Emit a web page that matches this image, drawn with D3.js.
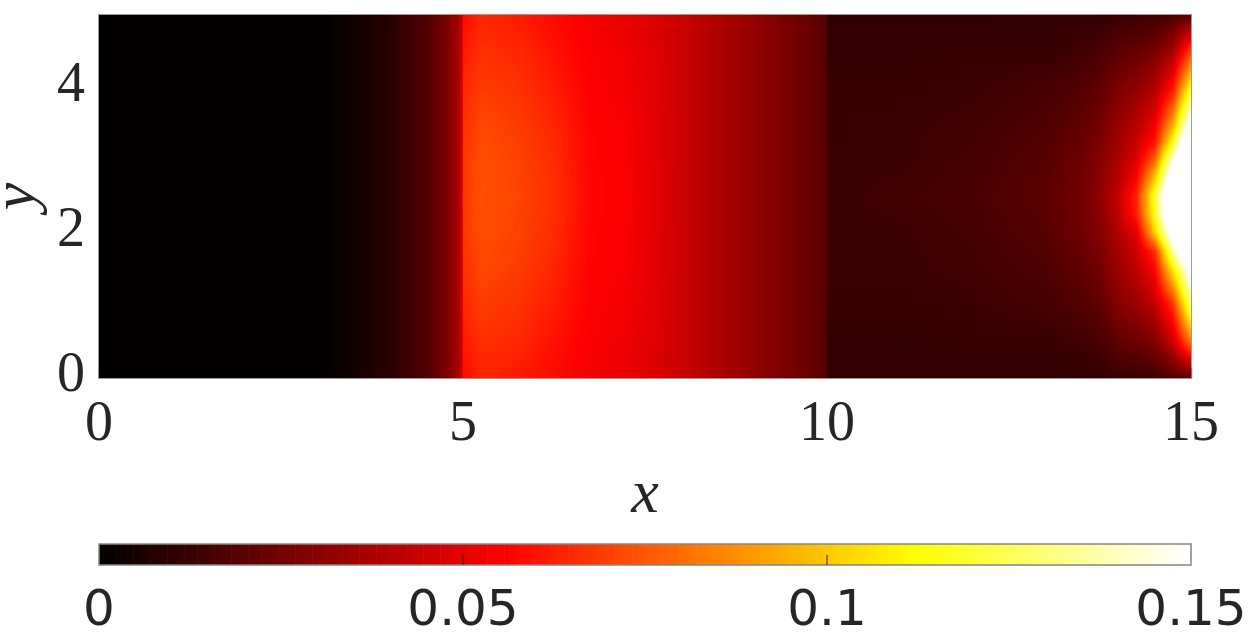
<!DOCTYPE html>
<html>
<head>
<meta charset="utf-8">
<script src="https://cdn.jsdelivr.net/npm/d3@7"></script>
<style>
  html, body { margin: 0; padding: 0; background: #fff; }
  svg { display: block; }
</style>
</head>
<body>
<svg id="chart" width="1248" height="637"></svg>
<script>
// ---------------- data ----------------
const xNodes = [0, 3.0, 3.5, 4.0, 4.5, 4.75, 4.9, 4.99, 5.0, 5.25, 5.75, 6.25, 6.75, 7.25, 7.75,
                8.25, 8.75, 9.25, 9.75, 9.99, 10.0, 11, 12, 13, 13.5, 13.75, 14, 14.25, 14.5, 14.75, 15];
const yNodes = [0, 0.25, 0.5, 1, 1.5, 1.75, 2, 2.25, 2.5, 2.75, 3, 3.25, 3.5, 4, 4.5, 4.75, 5];
// one row per y node (same order as yNodes), one value per x node
const fieldRows = [
  [0, 0, 0.0036, 0.0088, 0.0175, 0.026, 0.034, 0.045, 0.058, 0.064, 0.062, 0.058, 0.054, 0.051, 0.047, 0.041, 0.035, 0.029, 0.023, 0.019, 0.011, 0.011, 0.011, 0.011, 0.011, 0.011, 0.012, 0.013, 0.014, 0.017, 0.020],
  [0, 0, 0.0036, 0.0088, 0.0175, 0.026, 0.034, 0.045, 0.0595, 0.065, 0.063, 0.0588, 0.0544, 0.0516, 0.0473, 0.041, 0.035, 0.029, 0.023, 0.019, 0.011, 0.011, 0.011, 0.011, 0.012, 0.013, 0.017, 0.018, 0.021, 0.030, 0.050],
  [0, 0, 0.0036, 0.0088, 0.0175, 0.026, 0.034, 0.045, 0.061, 0.0665, 0.0645, 0.0598, 0.0548, 0.0523, 0.0476, 0.041, 0.035, 0.029, 0.023, 0.019, 0.011, 0.011, 0.012, 0.012, 0.014, 0.016, 0.021, 0.023, 0.028, 0.044, 0.082],
  [0, 0, 0.0036, 0.0088, 0.0175, 0.026, 0.034, 0.045, 0.064, 0.069, 0.067, 0.062, 0.0555, 0.0533, 0.048, 0.041, 0.035, 0.029, 0.023, 0.019, 0.012, 0.012, 0.013, 0.015, 0.018, 0.021, 0.029, 0.033, 0.042, 0.066, 0.128],
  [0, 0, 0.0036, 0.0088, 0.0175, 0.026, 0.034, 0.045, 0.066, 0.0715, 0.069, 0.064, 0.0562, 0.0542, 0.0482, 0.041, 0.035, 0.029, 0.023, 0.019, 0.013, 0.013, 0.014, 0.017, 0.021, 0.025, 0.034, 0.042, 0.056, 0.108, 0.160],
  [0, 0, 0.0036, 0.0088, 0.0175, 0.026, 0.034, 0.045, 0.067, 0.0723, 0.0698, 0.0648, 0.0565, 0.0545, 0.0483, 0.041, 0.035, 0.029, 0.023, 0.019, 0.013, 0.013, 0.0145, 0.018, 0.0225, 0.027, 0.036, 0.045, 0.066, 0.135, 0.195],
  [0, 0, 0.0036, 0.0088, 0.0175, 0.026, 0.034, 0.045, 0.0675, 0.073, 0.0705, 0.0655, 0.0567, 0.0547, 0.0484, 0.041, 0.035, 0.029, 0.023, 0.019, 0.013, 0.013, 0.015, 0.019, 0.024, 0.029, 0.039, 0.050, 0.100, 0.163, 0.225],
  [0, 0, 0.0036, 0.0088, 0.0175, 0.026, 0.034, 0.045, 0.0678, 0.0733, 0.0708, 0.0658, 0.0569, 0.0549, 0.0485, 0.041, 0.035, 0.029, 0.023, 0.019, 0.013, 0.0135, 0.0155, 0.0195, 0.0245, 0.030, 0.042, 0.062, 0.115, 0.185, 0.250],
  [0, 0, 0.0036, 0.0088, 0.0175, 0.026, 0.034, 0.045, 0.068, 0.0735, 0.071, 0.066, 0.057, 0.055, 0.0485, 0.041, 0.035, 0.029, 0.023, 0.019, 0.013, 0.014, 0.016, 0.020, 0.025, 0.031, 0.043, 0.064, 0.118, 0.190, 0.260],
  [0, 0, 0.0036, 0.0088, 0.0175, 0.026, 0.034, 0.045, 0.0678, 0.0733, 0.0708, 0.0658, 0.0569, 0.0549, 0.0485, 0.041, 0.035, 0.029, 0.023, 0.019, 0.013, 0.0135, 0.0155, 0.0195, 0.0245, 0.030, 0.040, 0.056, 0.100, 0.170, 0.240],
  [0, 0, 0.0036, 0.0088, 0.0175, 0.026, 0.034, 0.045, 0.0675, 0.073, 0.0705, 0.0655, 0.0567, 0.0547, 0.0484, 0.041, 0.035, 0.029, 0.023, 0.019, 0.013, 0.013, 0.015, 0.019, 0.024, 0.029, 0.038, 0.049, 0.078, 0.146, 0.210],
  [0, 0, 0.0036, 0.0088, 0.0175, 0.026, 0.034, 0.045, 0.067, 0.0723, 0.0698, 0.0648, 0.0565, 0.0545, 0.0483, 0.041, 0.035, 0.029, 0.023, 0.019, 0.0125, 0.013, 0.0145, 0.018, 0.0225, 0.027, 0.035, 0.044, 0.060, 0.115, 0.190],
  [0, 0, 0.0036, 0.0088, 0.0175, 0.026, 0.034, 0.045, 0.066, 0.0715, 0.069, 0.064, 0.0562, 0.0542, 0.0482, 0.041, 0.035, 0.029, 0.023, 0.019, 0.012, 0.013, 0.014, 0.017, 0.021, 0.025, 0.033, 0.040, 0.052, 0.092, 0.160],
  [0, 0, 0.0036, 0.0088, 0.0175, 0.026, 0.034, 0.045, 0.064, 0.069, 0.067, 0.062, 0.0555, 0.0533, 0.048, 0.041, 0.035, 0.029, 0.023, 0.019, 0.012, 0.012, 0.013, 0.015, 0.018, 0.021, 0.027, 0.031, 0.038, 0.060, 0.115],
  [0, 0, 0.0036, 0.0088, 0.0175, 0.026, 0.034, 0.045, 0.061, 0.0665, 0.0645, 0.0598, 0.0548, 0.0523, 0.0476, 0.041, 0.035, 0.029, 0.023, 0.019, 0.011, 0.011, 0.012, 0.012, 0.014, 0.016, 0.020, 0.022, 0.026, 0.036, 0.070],
  [0, 0, 0.0036, 0.0088, 0.0175, 0.026, 0.034, 0.045, 0.0595, 0.065, 0.063, 0.0588, 0.0544, 0.0516, 0.0473, 0.041, 0.035, 0.029, 0.023, 0.019, 0.011, 0.011, 0.011, 0.011, 0.012, 0.013, 0.016, 0.017, 0.019, 0.026, 0.045],
  [0, 0, 0.0036, 0.0088, 0.0175, 0.026, 0.034, 0.045, 0.058, 0.064, 0.062, 0.058, 0.054, 0.051, 0.047, 0.041, 0.035, 0.029, 0.023, 0.019, 0.010, 0.010, 0.010, 0.011, 0.011, 0.011, 0.012, 0.013, 0.014, 0.016, 0.020]
];
const xTicks = [0, 5, 10, 15];
const yTicks = [0, 2, 4];
const cbTicks = [0, 0.05, 0.1, 0.15];
const cbTickLabels = ["0", "0.05", "0.1", "0.15"];
const colorLimits = [0, 0.15];

// ---------------- layout ----------------
const svg = d3.select("#chart");
const plot = { left: 99, right: 1191, top: 15, bottom: 378 };
const cb = { top: 544, bottom: 565 };
const ink = "#262626";

const xScale = d3.scaleLinear().domain([0, 15]).range([plot.left, plot.right]);
const yScale = d3.scaleLinear().domain([0, 5]).range([plot.bottom, plot.top]);
const cbScale = d3.scaleLinear().domain(colorLimits).range([plot.left, plot.right]);

// MATLAB-like "hot" colormap with 256 levels
const M = 256, n1 = Math.floor(3 / 8 * M);
const hotColors = d3.range(M).map(i => {
  const k = i + 1;
  const r = Math.min(1, k / n1);
  const g = Math.max(0, Math.min(1, (k - n1) / n1));
  const b = Math.max(0, Math.min(1, (k - 2 * n1) / (M - 2 * n1)));
  return d3.rgb(r * 255, g * 255, b * 255);
});
const color = d3.scaleQuantize().domain(colorLimits).range(hotColors);

// ---------------- field image (interpolated shading between grid nodes) ----------------
function sample(xv, yv) {
  const i = Math.max(0, Math.min(xNodes.length - 2, d3.bisectRight(xNodes, xv) - 1));
  const j = Math.max(0, Math.min(yNodes.length - 2, d3.bisectRight(yNodes, yv) - 1));
  const tx = Math.max(0, Math.min(1, (xv - xNodes[i]) / (xNodes[i + 1] - xNodes[i])));
  const ty = Math.max(0, Math.min(1, (yv - yNodes[j]) / (yNodes[j + 1] - yNodes[j])));
  const a = fieldRows[j][i], b = fieldRows[j][i + 1];
  const c = fieldRows[j + 1][i], d = fieldRows[j + 1][i + 1];
  return (a * (1 - tx) + b * tx) * (1 - ty) + (c * (1 - tx) + d * tx) * ty;
}

const W = plot.right - plot.left, H = plot.bottom - plot.top;
const canvas = document.createElement("canvas");
canvas.width = W; canvas.height = H;
const ctx = canvas.getContext("2d");
const img = ctx.createImageData(W, H);
for (let py = 0; py < H; py++) {
  const yv = yScale.invert(plot.top + py + 0.5);
  for (let px = 0; px < W; px++) {
    const xv = xScale.invert(plot.left + px + 0.5);
    const c = color(sample(xv, yv));
    const o = (py * W + px) * 4;
    img.data[o] = c.r; img.data[o + 1] = c.g; img.data[o + 2] = c.b; img.data[o + 3] = 255;
  }
}
ctx.putImageData(img, 0, 0);

// axes frame + ticks under the image
svg.append("rect")
  .attr("x", plot.left - 0.5).attr("y", plot.top - 0.5)
  .attr("width", W + 1).attr("height", H + 1)
  .attr("fill", "none").attr("stroke", "#9a9a9a").attr("stroke-width", 1);
svg.append("g").selectAll("line").data(xTicks).join("line")
  .attr("x1", d => xScale(d) + 0.5).attr("x2", d => xScale(d) + 0.5)
  .attr("y1", plot.bottom).attr("y2", plot.bottom - 10)
  .attr("stroke", "#777").attr("stroke-width", 1.5);

svg.append("image")
  .attr("x", plot.left).attr("y", plot.top)
  .attr("width", W).attr("height", H)
  .attr("preserveAspectRatio", "none")
  .attr("href", canvas.toDataURL());

// tick labels
const serif = "'Liberation Serif', 'Times New Roman', serif";
svg.append("g").selectAll("text").data(xTicks).join("text")
  .attr("x", d => xScale(d)).attr("y", 440)
  .attr("text-anchor", "middle")
  .attr("font-family", serif).attr("font-size", 56).attr("fill", ink)
  .text(d => d);
svg.append("g").selectAll("text").data(yTicks).join("text")
  .attr("x", plot.left - 14).attr("y", d => yScale(d) + 13)
  .attr("text-anchor", "end")
  .attr("font-family", serif).attr("font-size", 56).attr("fill", ink)
  .text(d => d);

// axis labels
svg.append("text")
  .attr("x", (plot.left + plot.right) / 2).attr("y", 512)
  .attr("text-anchor", "middle")
  .attr("font-family", serif).attr("font-style", "italic").attr("font-size", 62).attr("fill", ink)
  .text("x");
svg.append("text")
  .attr("transform", `translate(34,${(plot.top + plot.bottom) / 2}) rotate(-90)`)
  .attr("text-anchor", "middle")
  .attr("font-family", serif).attr("font-style", "italic").attr("font-size", 62).attr("fill", ink)
  .text("y");

// ---------------- colorbar ----------------
const step = (colorLimits[1] - colorLimits[0]) / M;
svg.append("g").selectAll("rect").data(hotColors).join("rect")
  .attr("x", (d, i) => cbScale(colorLimits[0] + i * step))
  .attr("width", (d, i) => cbScale(colorLimits[0] + (i + 1) * step) - cbScale(colorLimits[0] + i * step) + 0.6)
  .attr("y", cb.top).attr("height", cb.bottom - cb.top)
  .attr("fill", d => d);
svg.append("rect")
  .attr("x", plot.left).attr("y", cb.top)
  .attr("width", W).attr("height", cb.bottom - cb.top)
  .attr("fill", "none").attr("stroke", "#858585").attr("stroke-width", 1.5);
svg.append("g").selectAll("line").data(cbTicks.slice(1, -1)).join("line")
  .attr("x1", d => cbScale(d)).attr("x2", d => cbScale(d))
  .attr("y1", cb.bottom).attr("y2", cb.bottom - 10)
  .attr("stroke", ink).attr("stroke-width", 1);
svg.append("g").selectAll("text").data(cbTicks).join("text")
  .attr("x", d => cbScale(d)).attr("y", 625)
  .attr("text-anchor", "middle")
  .attr("font-family", "'DejaVu Sans', sans-serif").attr("font-size", 50).attr("fill", ink)
  .text((d, i) => cbTickLabels[i]);
</script>
</body>
</html>
